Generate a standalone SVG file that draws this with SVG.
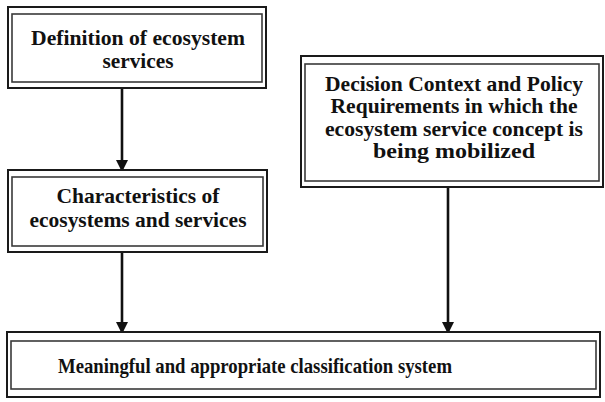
<svg xmlns="http://www.w3.org/2000/svg" width="605" height="402" viewBox="0 0 605 402">
<style>
.outer{fill:#fff;stroke:#1a1a1a;stroke-width:2}
.inner{fill:none;stroke:#3a3a3a;stroke-width:1.6}
.t{font-family:"Liberation Serif","Times New Roman",serif;font-weight:bold;font-size:21px;fill:#111;text-anchor:middle}
.c{stroke:#111;stroke-width:2.6;fill:none}
</style>
<defs>
<marker id="ah" markerWidth="12" markerHeight="12" refX="10" refY="6" orient="auto" markerUnits="userSpaceOnUse">
<path d="M0,0 L12,6 L0,12 Z" fill="#111"/>
</marker>
</defs>
<rect width="605" height="402" fill="#fff"/>
<g id="edges">
<line class="c" x1="122" y1="88" x2="122" y2="170" marker-end="url(#ah)"/>
<line class="c" x1="122" y1="252" x2="122" y2="332" marker-end="url(#ah)"/>
<line class="c" x1="448" y1="187" x2="448" y2="332" marker-end="url(#ah)"/>
</g>
<g id="n1">
<rect class="outer" x="8" y="7" width="258" height="81"/>
<rect class="inner" x="12" y="14" width="250" height="68"/>
<text class="t" x="138" y="45" textLength="214" lengthAdjust="spacingAndGlyphs">Definition of ecosystem</text>
<text class="t" x="138" y="68" textLength="71" lengthAdjust="spacingAndGlyphs">services</text>
</g>
<g id="n2">
<rect class="outer" x="8" y="170" width="259" height="82"/>
<rect class="inner" x="12" y="177" width="251" height="69"/>
<text class="t" x="138" y="203" textLength="163" lengthAdjust="spacingAndGlyphs">Characteristics of</text>
<text class="t" x="138" y="227" textLength="217" lengthAdjust="spacingAndGlyphs">ecosystems and services</text>
</g>
<g id="n3">
<rect class="outer" x="301" y="56" width="302" height="131"/>
<rect class="inner" x="305" y="64" width="294" height="117"/>
<text class="t" x="454" y="91" textLength="258" lengthAdjust="spacingAndGlyphs">Decision Context and Policy</text>
<text class="t" x="454" y="113" textLength="247" lengthAdjust="spacingAndGlyphs">Requirements in which the</text>
<text class="t" x="454" y="136" textLength="258" lengthAdjust="spacingAndGlyphs">ecosystem service concept is</text>
<text class="t" x="454" y="158" textLength="162" lengthAdjust="spacingAndGlyphs">being mobilized</text>
</g>
<g id="n4">
<rect class="outer" x="7" y="332" width="593" height="65"/>
<rect class="inner" x="11" y="341" width="585" height="48"/>
<text class="t" x="255" y="373" textLength="394" lengthAdjust="spacingAndGlyphs">Meaningful and appropriate classification system</text>
</g>
</svg>
